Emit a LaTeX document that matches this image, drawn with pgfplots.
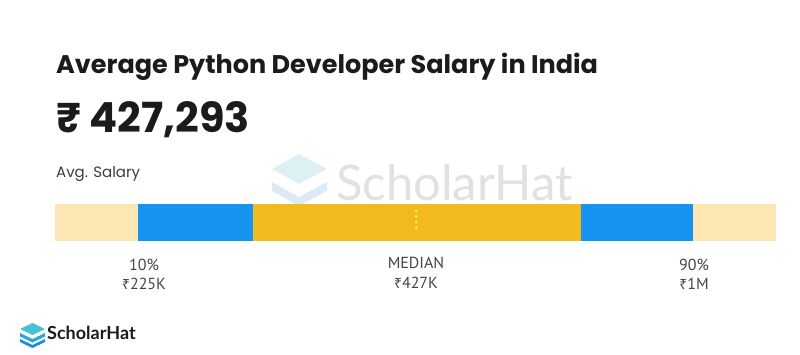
\documentclass[border=0pt]{standalone}
\usepackage{pgfplots}
\pgfplotsset{compat=1.18}
\usepackage{fontspec}
\setmainfont{Poppins}
\newfontfamily\rup{Noto Sans}
\newfontfamily\labf{PT Sans}
\newfontfamily\latof{Lato}
\definecolor{cream}{HTML}{FBE6B4}
\definecolor{sblue}{HTML}{1793F0}
\definecolor{sgold}{HTML}{F2BA1C}
\definecolor{dotc}{HTML}{FFEE66}
\definecolor{ink}{HTML}{1B1B1B}
\definecolor{labc}{HTML}{444444}
\definecolor{wm}{HTML}{E1E1E3}
\definecolor{wmA}{HTML}{DDF0F4}
\definecolor{wmB}{HTML}{DCEAF8}
\definecolor{lgA}{HTML}{45C2D8}
\definecolor{lgB}{HTML}{2AA6E0}
\definecolor{lgC}{HTML}{1E88E5}
\pgfplotsset{base/.style={width=800pt, height=354pt, scale only axis,
  xmin=0, xmax=800, ymin=0, ymax=354, y dir=reverse,
  axis lines=none, clip=false}}
\begin{document}
\begin{tikzpicture}
% background layer: watermark
\begin{axis}[base]
\path (axis cs:0,0) rectangle (axis cs:800,354);
\addplot[fill=wmB, draw=none] coordinates {(272,182) (299,197) (327,182) (327,191) (299,206) (272,191)} -- cycle;
\addplot[fill=wmA, draw=none] coordinates {(272,169) (299,154) (327,169) (299,184)} -- cycle;
\node[anchor=base west, text=wm, inner sep=0pt] at (axis cs:336,200) {\latof\fontsize{49}{52}\selectfont ScholarHat};
\end{axis}
% bar (stacked segments)
\begin{axis}[base, xbar stacked, bar width=37]
\addplot[draw=none, fill=none] coordinates {(55,222.5)};
\addplot[draw=none, fill=cream] coordinates {(83,222.5)};
\addplot[draw=none, fill=sblue] coordinates {(115,222.5)};
\addplot[draw=none, fill=sgold] coordinates {(328,222.5)};
\addplot[draw=none, fill=sblue] coordinates {(112,222.5)};
\addplot[draw=none, fill=cream] coordinates {(83,222.5)};
\end{axis}
% foreground: median marker, texts, logo
\begin{axis}[base]
\addplot[draw=dotc, line width=3pt, line cap=round, dash pattern=on 0pt off 5.5pt, mark=none] coordinates {(416,211) (416,230)};
\node[anchor=base west, text=ink, inner sep=0pt] at (axis cs:56,73) {\fontsize{25.5}{28}\selectfont\bfseries Average Python Developer Salary in India};
\node[anchor=base west, text=ink, inner sep=0pt] at (axis cs:56,132) {\fontsize{41.5}{44}\selectfont\bfseries ₹ 427,293};
\node[anchor=base west, text=ink!85, inner sep=0pt] at (axis cs:56,177) {\fontsize{15}{17}\selectfont Avg. Salary};
\node[anchor=base, text=labc, inner sep=0pt] at (axis cs:144,270) {\fontsize{16}{18}\selectfont\labf 10\%};
\node[anchor=base, text=labc, inner sep=0pt] at (axis cs:144,289) {\fontsize{16}{18}\selectfont{\rup\fontsize{14}{18}\selectfont ₹}\labf 225K};
\node[anchor=base, text=labc, inner sep=0pt] at (axis cs:416,268) {\fontsize{16}{18}\selectfont\labf MEDIAN};
\node[anchor=base, text=labc, inner sep=0pt] at (axis cs:416,288) {\fontsize{16}{18}\selectfont{\rup\fontsize{14}{18}\selectfont ₹}\labf 427K};
\node[anchor=base, text=labc, inner sep=0pt] at (axis cs:694,270) {\fontsize{16}{18}\selectfont\labf 90\%};
\node[anchor=base, text=labc, inner sep=0pt] at (axis cs:694,289) {\fontsize{16}{18}\selectfont{\rup\fontsize{14}{18}\selectfont ₹}\labf 1M};
\addplot[fill=lgC, draw=none] coordinates {(20,339) (32.5,345) (45,339) (45,342) (32.5,348) (20,342)} -- cycle;
\addplot[fill=lgB, draw=none] coordinates {(20,333) (32.5,339) (45,333) (45,336.5) (32.5,342.5) (20,336.5)} -- cycle;
\addplot[fill=lgA, draw=none] coordinates {(20,329) (32.5,323) (45,329) (32.5,335)} -- cycle;
\node[anchor=base west, text=ink, inner sep=0pt] at (axis cs:47,339.5) {\latof\fontsize{18}{20}\selectfont\bfseries ScholarHat};
\end{axis}
\end{tikzpicture}
\end{document}
